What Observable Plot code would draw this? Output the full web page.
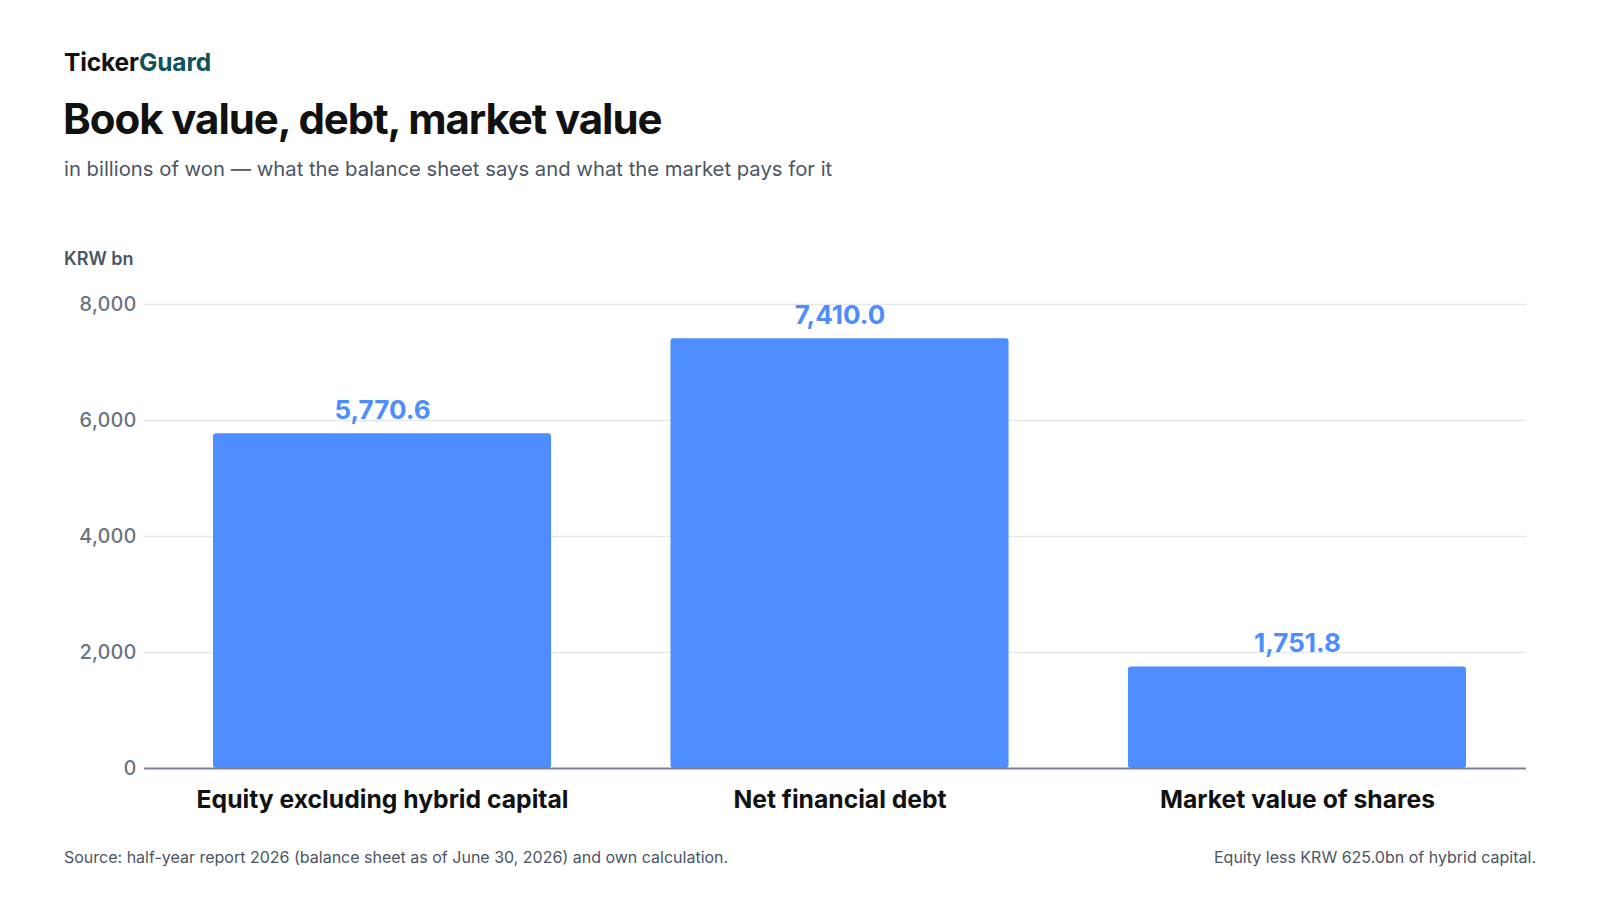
<!DOCTYPE html>
<html>
<head>
<meta charset="utf-8">
<script src="https://cdn.jsdelivr.net/npm/d3@7"></script>
<script src="https://cdn.jsdelivr.net/npm/@observablehq/plot@0.6"></script>
<style>
  html, body { margin: 0; padding: 0; background: #ffffff; }
  #page { position: relative; width: 1600px; height: 900px; overflow: hidden; font-family: Inter, "Noto Sans", sans-serif; background: #fff; }
  .t { position: absolute; white-space: nowrap; }
  #brand { left: 64px; top: 50px; font-size: 24.5px; line-height: 24px; font-weight: 700; color: #111; letter-spacing: -0.005em; }
  #brand span { color: #0f5257; }
  #title { left: 63px; top: 98px; font-size: 42px; line-height: 42px; font-weight: 700; color: #111; letter-spacing: -0.025em; }
  #subtitle { left: 64px; top: 159px; font-size: 20.3px; line-height: 20px; font-weight: 400; color: #4b5563; }
  #unit { left: 64px; top: 250px; font-size: 18px; line-height: 17px; font-weight: 600; color: #4b5563; }
  #chart { position: absolute; left: 0; top: 270px; }
  #source { left: 64px; top: 849px; font-size: 16px; line-height: 16px; color: #4b5563; }
  #note { right: 64px; top: 849px; font-size: 16px; line-height: 16px; color: #4b5563; }
</style>
</head>
<body>
<div id="page">
  <div class="t" id="brand">Ticker<span>Guard</span></div>
  <div class="t" id="title">Book value, debt, market value</div>
  <div class="t" id="subtitle">in billions of won — what the balance sheet says and what the market pays for it</div>
  <div class="t" id="unit">KRW bn</div>
  <div id="chart"></div>
  <div class="t" id="source">Source: half-year report 2026 (balance sheet as of June 30, 2026) and own calculation.</div>
  <div class="t" id="note">Equity less KRW 625.0bn of hybrid capital.</div>
</div>
<script>
const categories = ["Equity excluding hybrid capital", "Net financial debt", "Market value of shares"];
const values = [5770.6, 7410.0, 1751.8];
const yTicks = [0, 2000, 4000, 6000, 8000];

const data = categories.map((c, i) => ({category: c, value: values[i]}));
const fmtVal = d3.format(",.1f");
const fmtTick = d3.format(",");
const blue = "#4d8dff";

const chart = Plot.plot({
  width: 1600,
  height: 558,
  marginTop: 34,
  marginBottom: 60,
  marginLeft: 144,
  marginRight: 74,
  style: {fontFamily: "Inter, 'Noto Sans', sans-serif", background: "transparent"},
  x: {domain: categories, paddingInner: 0.261, paddingOuter: 0.141, align: 0.535, round: false, label: null},
  y: {domain: [0, 8000], label: null},
  marks: [
    Plot.ruleY(yTicks.filter(d => d > 0), {stroke: "#e5e7eb", strokeWidth: 1.5}),
    Plot.barY(data, {x: "category", y: "value", fill: blue, rx: 3}),
    Plot.ruleY([0], {stroke: "#7b838f", strokeWidth: 2}),
    Plot.text(data, {x: "category", y: "value", text: d => fmtVal(d.value), lineAnchor: "bottom", dy: -14.5, fill: blue, fontSize: 26, fontWeight: 700}),
    Plot.axisY({ticks: yTicks, tickFormat: fmtTick, tickSize: 0, tickPadding: 8, fontSize: 20, fontWeight: 500, color: "#6b7280", label: null}),
    Plot.axisX({tickSize: 0, tickPadding: 21.5, fontSize: 24.7, fontWeight: 700, color: "#111111", label: null})
  ]
});
document.getElementById("chart").appendChild(chart);
</script>
</body>
</html>
